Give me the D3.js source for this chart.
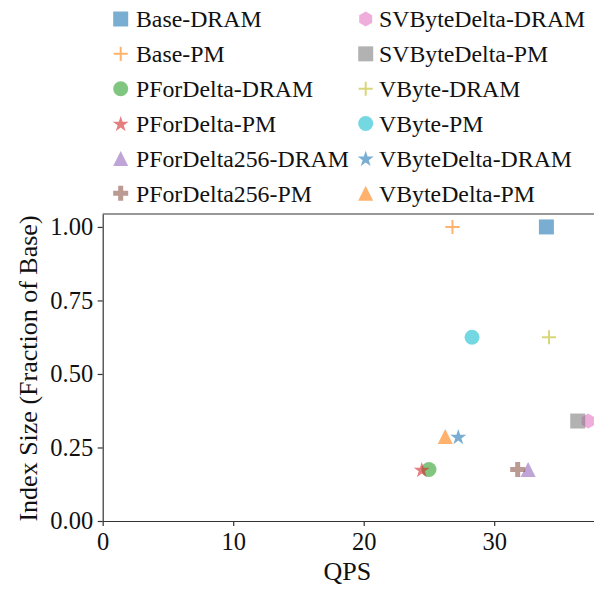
<!DOCTYPE html>
<html>
<head>
<meta charset="utf-8">
<script src="https://cdn.jsdelivr.net/npm/d3@7"></script>
<style>
html,body{margin:0;padding:0;background:#fff;overflow:hidden;}
svg{display:block;}
</style>
</head>
<body>
<svg id="chart" width="594" height="592"></svg>
<script>
// ---- data ----
const seriesNames = ["Base-DRAM","Base-PM","PForDelta-DRAM","PForDelta-PM","PForDelta256-DRAM","PForDelta256-PM",
                     "SVByteDelta-DRAM","SVByteDelta-PM","VByte-DRAM","VByte-PM","VByteDelta-DRAM","VByteDelta-PM"];
const qps       = [34.0, 26.8, 25.0, 24.45, 32.6, 31.8, 37.2, 36.4, 34.2, 28.3, 27.25, 26.25];
const indexSize = [1.0, 1.0, 0.175, 0.175, 0.175, 0.175, 0.34, 0.34, 0.625, 0.625, 0.287, 0.287];
const markers   = ["square","plus","circle","star","triangle","plusFilled","hexagon","square","plus","circle","star","triangle"];
const colors    = ["#1f77b4","#ff7f0e","#2ca02c","#d62728","#9467bd","#8c564b","#e377c2","#7f7f7f","#bcbd22","#17becf","#1f77b4","#ff7f0e"];
const xTicks = [0, 10, 20, 30];
const yTicks = [0, 0.25, 0.5, 0.75, 1.0];
const xLabel = "QPS";
const yLabel = "Index Size (Fraction of Base)";

// ---- layout ----
const svg = d3.select("#chart");
const pLeft = 102.7, pRight = 596, pTop = 214, pBottom = 521;
const x = d3.scaleLinear().domain([0, 37.8]).range([pLeft, pRight]);
const y = d3.scaleLinear().domain([0, 1.044]).range([pBottom, pTop]);
const FONT = "'Liberation Serif', 'DejaVu Serif', serif";
const M = 15; // marker size px
const ALPHA = 0.6;

function markerPath(type, m) {
  const h = m / 2;
  const p = d3.path();
  if (type === "square") {
    p.rect(-h, -h, m, m);
  } else if (type === "circle") {
    p.arc(0, 0, h, 0, 2 * Math.PI);
  } else if (type === "triangle") {
    p.moveTo(0, -h); p.lineTo(h, h); p.lineTo(-h, h); p.closePath();
  } else if (type === "star") {
    const R = h * 1.12, r = R * 0.381966;
    for (let i = 0; i < 10; i++) {
      const rad = i % 2 === 0 ? R : r;
      const a = -Math.PI / 2 + i * Math.PI / 5;
      const px = rad * Math.cos(a), py = rad * Math.sin(a) + 0.8;
      if (i === 0) p.moveTo(px, py); else p.lineTo(px, py);
    }
    p.closePath();
  } else if (type === "hexagon") {
    for (let i = 0; i < 6; i++) {
      const a = -Math.PI / 2 + i * Math.PI / 3;
      const px = h * Math.cos(a), py = h * Math.sin(a);
      if (i === 0) p.moveTo(px, py); else p.lineTo(px, py);
    }
    p.closePath();
  } else if (type === "plusFilled") {
    const u = m / 6;
    const pts = [[-1,-3],[1,-3],[1,-1],[3,-1],[3,1],[1,1],[1,3],[-1,3],[-1,1],[-3,1],[-3,-1],[-1,-1]];
    pts.forEach((q, i) => { if (i === 0) p.moveTo(q[0]*u, q[1]*u); else p.lineTo(q[0]*u, q[1]*u); });
    p.closePath();
  } else if (type === "plus") {
    const hh = m * 0.47;
    p.moveTo(-hh, 0); p.lineTo(hh, 0); p.moveTo(0, -hh); p.lineTo(0, hh);
  }
  return p.toString();
}

function drawMarker(g, type, color) {
  if (type === "plus") {
    g.append("path").attr("d", markerPath(type, M))
      .attr("fill", "none").attr("stroke", color).attr("stroke-width", 2)
      .attr("stroke-opacity", ALPHA);
  } else {
    g.append("path").attr("d", markerPath(type, M))
      .attr("fill", color).attr("fill-opacity", ALPHA).attr("stroke", "none");
  }
}

// ---- axes ----
const xAxis = d3.axisBottom(x).tickValues(xTicks).tickFormat(d3.format("d"))
  .tickSize(5).tickSizeOuter(0).tickPadding(7);
const yAxis = d3.axisLeft(y).tickValues(yTicks).tickFormat(d3.format(".2f"))
  .tickSize(5).tickSizeOuter(0).tickPadding(4.5);

const gx = svg.append("g").attr("transform", `translate(0,${pBottom})`).call(xAxis);
const gy = svg.append("g").attr("transform", `translate(${pLeft},0)`).call(yAxis);
[gx, gy].forEach(g => {
  g.selectAll("path.domain").attr("stroke", "#333").attr("stroke-width", 1.2);
  g.selectAll(".tick line").attr("stroke", "#333").attr("stroke-width", 1.2);
  g.selectAll(".tick text").attr("font-family", FONT).attr("font-size", 24.5).attr("fill", "#111");
});
// top & right spines
svg.append("line").attr("x1", pLeft).attr("x2", pRight).attr("y1", pTop).attr("y2", pTop)
  .attr("stroke", "#333").attr("stroke-width", 1.2);
svg.append("line").attr("x1", pRight).attr("x2", pRight).attr("y1", pTop).attr("y2", pBottom)
  .attr("stroke", "#333").attr("stroke-width", 1.2);

// axis labels
svg.append("text").attr("x", (pLeft + 594) / 2 - 1).attr("y", 580)
  .attr("text-anchor", "middle").attr("font-family", FONT).attr("font-size", 26)
  .attr("fill", "#111").text(xLabel);
svg.append("text").attr("transform", `translate(37,${(pTop + pBottom) / 2 + 1}) rotate(-90)`)
  .attr("text-anchor", "middle").attr("font-family", FONT).attr("font-size", 26)
  .attr("fill", "#111").text(yLabel);

// ---- points ----
const ptsG = svg.append("g");
seriesNames.forEach((name, i) => {
  const g = ptsG.append("g").attr("transform", `translate(${x(qps[i])},${y(indexSize[i])})`);
  drawMarker(g, markers[i], colors[i]);
});

// ---- legend ----
const legend = svg.append("g");
const colMarkerX = [120.7, 365.7], colTextX = [136, 379];
seriesNames.forEach((name, i) => {
  const col = Math.floor(i / 6), row = i % 6;
  const cy = 19 + row * 34.85;
  const g = legend.append("g").attr("transform", `translate(${colMarkerX[col]},${cy})`);
  drawMarker(g, markers[i], colors[i]);
  legend.append("text").attr("x", colTextX[col]).attr("y", cy + 8.3)
    .attr("font-family", FONT).attr("font-size", 23.8).attr("fill", "#111").text(name);
});
</script>
</body>
</html>
